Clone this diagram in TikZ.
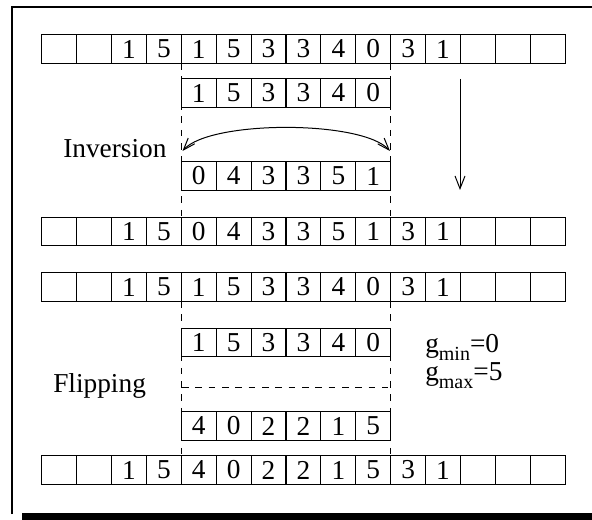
\documentclass[tikz,border=0pt]{standalone}
\usepackage{fontspec}
\setmainfont{Liberation Serif}
\usetikzlibrary{arrows.meta}

% one row of cells: name, index of first cell, vertical centre, contents
\newcommand\cellrow[4]{%
  \foreach \v [count=\i] in {#4}
    \node[cell] (#1-\i) at ({41.7+34.9*(#2+\i-0.5)},#3) {\v};%
}

\begin{document}
\begin{tikzpicture}[x=0.75pt,y=-0.75pt,
  cell/.style={draw,line width=0.75pt,minimum width=26.2pt,minimum height=21.2pt,
    inner sep=0pt,outer sep=0pt,font=\fontsize{20.5}{24}\selectfont},
  lbl/.style={inner sep=0pt,anchor=base west,font=\fontsize{20.5}{24}\selectfont},
  cut/.style={dash pattern=on 5pt off 5pt,line width=0.75pt},
  barb/.tip={Straight Barb[length=9pt,width=6.5pt]},
  move/.style={line width=0.75pt,-{Straight Barb[length=9.5pt,width=7.5pt]}},
]
\useasboundingbox (0,0) rectangle (592,520);

% frame with its shadow
\draw[line width=1.5pt] (12,514) -- (12,7) -- (592,7);
\fill (22,513) rectangle (592,520);

% inversion
\cellrow{ra}{0}{49}{{},{},1,5,1,5,3,3,4,0,3,1,{},{},{}}
\cellrow{sa}{4}{93}{1,5,3,3,4,0}
\cellrow{sb}{4}{176}{0,4,3,3,5,1}
\cellrow{rb}{0}{231.5}{{},{},1,5,0,4,3,3,5,1,3,1,{},{},{}}

\draw[cut] (ra-5.south west) -- (rb-5.north west);
\draw[cut] (ra-10.south east) -- (rb-10.north east);

\coordinate (il) at (182.5,151);
\coordinate (ir) at (390,151);
\draw[line width=0.75pt,barb-barb] (il) .. controls (210,120) and (362,120) .. (ir);

\coordinate (d1) at (460,79);
\coordinate (d2) at (460,190);
\draw[move] (d1) -- (d2);

\node[lbl] (inv) at (63,158) {Inversion};

% flipping
\cellrow{rc}{0}{287}{{},{},1,5,1,5,3,3,4,0,3,1,{},{},{}}
\cellrow{sc}{4}{342.5}{1,5,3,3,4,0}
\cellrow{sd}{4}{426}{4,0,2,2,1,5}
\cellrow{rd}{0}{470}{{},{},1,5,4,0,2,2,1,5,3,1,{},{},{}}

\draw[cut] (rc-5.south west) -- (rd-5.north west);
\draw[cut] (rc-10.south east) -- (rd-10.north east);

\coordinate (fl) at (182,387);
\coordinate (fr) at (388,387);
\draw[cut] (fl) -- (fr);

\node[lbl] (flip) at (53,392) {Flipping};
\node[lbl] (gmin) at (425,352) {g\raisebox{-0.3em}{\fontsize{15}{15}\selectfont min}=0};
\node[lbl] (gmax) at (425,380) {g\raisebox{-0.3em}{\fontsize{15}{15}\selectfont max}=5};
\end{tikzpicture}
\end{document}
